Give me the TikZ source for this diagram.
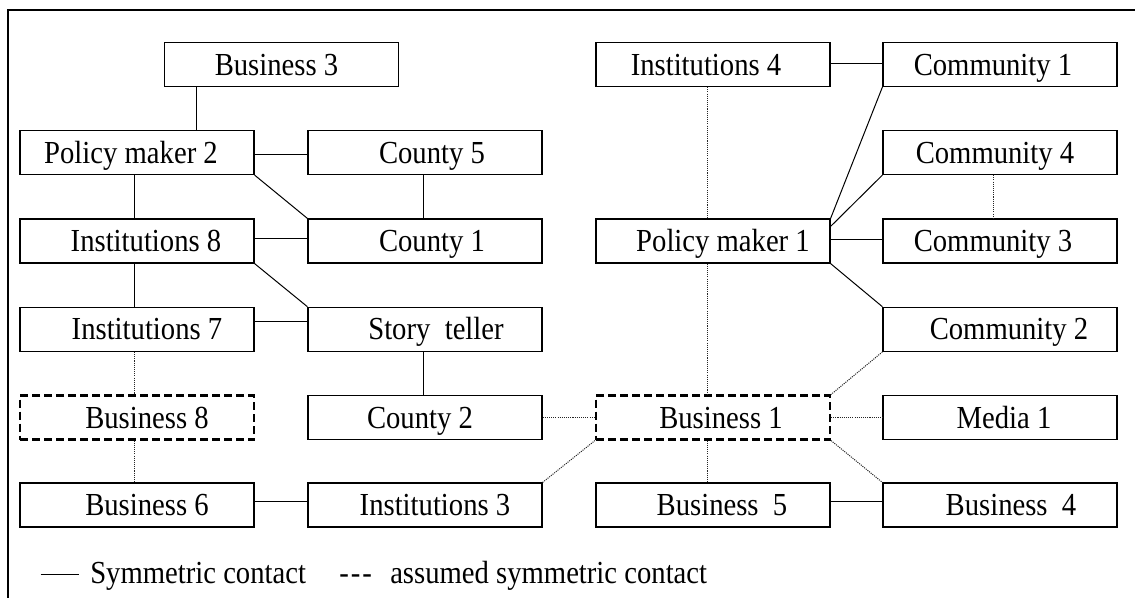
\documentclass[tikz,border=0pt]{standalone}
\usepackage{fontspec}
\setmainfont{Liberation Serif}
\newcommand{\tx}[1]{\scalebox{1}[1.12]{#1}}
\newcommand{\rsh}[2]{\hspace*{#1}\tx{#2}}
\newcommand{\lsh}[2]{\tx{#2}\hspace*{#1}}
\begin{document}
\begin{tikzpicture}[x=0.75pt,y=-0.75pt,
  box/.style={draw, line width=0.9pt, minimum width=175.5pt, minimum height=33pt,
    inner sep=0pt, text height=16pt, text depth=0pt,
    font=\fontsize{21.5pt}{24pt}\selectfont},
  dbox/.style={box, line width=1.6pt, dash pattern=on 6pt off 3pt},
  link/.style={line width=0.75pt},
  dlink/.style={line width=0.75pt, dash pattern=on 0.8pt off 0.8pt, black!85},
  legend/.style={inner sep=0pt, anchor=base west, font=\fontsize{21.5pt}{24pt}\selectfont}]
\useasboundingbox (0,0) rectangle (1135,597);
% frame
\draw[line width=0.9pt] (8,610) -- (8,10) -- (1150,10);
% left group
\node[box] (b3)  at (281.5,64.5) {\lsh{7.5pt}{Business 3}};
\node[box] (pm2) at (137,152.5) {\lsh{9pt}{Policy maker 2}};
\node[box] (c5)  at (425,152.5) {\rsh{10.5pt}{County 5}};
\node[box] (i8)  at (137,241) {\rsh{13.5pt}{Institutions 8}};
\node[box] (c1)  at (425,241) {\rsh{10.5pt}{County 1}};
\node[box] (i7)  at (137,329.3) {\rsh{15pt}{Institutions 7}};
\node[box] (st)  at (425,329.3) {\rsh{16.5pt}{Story~~teller}};
\node[dbox] (b8) at (137,417.5) {\rsh{15pt}{Business 8}};
\node[box] (c2)  at (425,417.5) {\lsh{7.5pt}{County 2}};
\node[box] (b6)  at (137,505) {\rsh{15pt}{Business 6}};
\node[box] (i3)  at (425,505) {\rsh{15pt}{Institutions 3}};
% right group
\node[box] (i4)  at (713,64.5) {\lsh{10.5pt}{Institutions 4}};
\node[box] (cm1) at (1000,64.5) {\lsh{10.5pt}{Community 1}};
\node[box] (cm4) at (1000,152.5) {\lsh{7.5pt}{Community 4}};
\node[box] (pm1) at (713,241) {\rsh{15pt}{Policy maker 1}};
\node[box] (cm3) at (1000,241) {\lsh{10.5pt}{Community 3}};
\node[box] (cm2) at (1000,329.3) {\rsh{13.5pt}{Community 2}};
\node[dbox] (b1) at (713,417.5) {\rsh{12pt}{Business 1}};
\node[box] (md1) at (1000,417.5) {\rsh{6pt}{Media 1}};
\node[box] (b5)  at (713,505) {\rsh{13.5pt}{Business~~5}};
\node[box] (b4)  at (1000,505) {\rsh{16.5pt}{Business~~4}};
% helper coordinates
\coordinate (k1) at ([xshift=24.75pt]b3.south west);
\coordinate (k2) at ([yshift=-6pt]pm1.north east);
% solid connectors, left
\draw[link] (k1) -- (k1 |- pm2.north);
\draw[link] ([yshift=-1.5pt]pm2.east) -- ([yshift=-1.5pt]c5.west);
\draw[link] (pm2.south east) -- (c1.north west);
\draw[link] ([xshift=-1.5pt]c5.south) -- ([xshift=-1.5pt]c1.north);
\draw[link] ([xshift=-2.25pt]pm2.south) -- ([xshift=-2.25pt]i8.north);
\draw[link] ([yshift=2.25pt]i8.east) -- ([yshift=2.25pt]c1.west);
\draw[link] (i8.south east) -- (st.north west);
\draw[link] ([xshift=-2.25pt]i8.south) -- ([xshift=-2.25pt]i7.north);
\draw[link] ([yshift=6pt]i7.east) -- ([yshift=6pt]st.west);
\draw[link] ([xshift=-1.5pt]st.south) -- ([xshift=-1.5pt]c2.north);
\draw[link] ([yshift=3pt]b6.east) -- ([yshift=3pt]i3.west);
% dotted connectors, left
\draw[dlink] ([xshift=-2.25pt]i7.south) -- ([xshift=-2.25pt]b8.north);
\draw[dlink] ([xshift=-2.25pt]b8.south) -- ([xshift=-2.25pt]b6.north);
% solid connectors, right
\draw[link] ([yshift=1pt]i4.east) -- ([yshift=1pt]cm1.west);
\draw[link] (cm1.south west) -- (pm1.north east);
\draw[link] (cm4.south west) -- (k2);
\draw[link] ([yshift=1.5pt]pm1.east) -- ([yshift=1.5pt]cm3.west);
\draw[link] (pm1.south east) -- (cm2.north west);
\draw[link] ([yshift=3pt]b5.east) -- ([yshift=3pt]b4.west);
% dotted connectors, right and middle
\draw[dlink] ([xshift=-5.25pt]cm4.south) -- ([xshift=-5.25pt]cm3.north);
\draw[dlink] ([xshift=-4.5pt]i4.south) -- ([xshift=-4.5pt]pm1.north);
\draw[dlink] ([xshift=-4.5pt]pm1.south) -- ([xshift=-4.5pt]b1.north);
\draw[dlink] (cm2.south west) -- (b1.north east);
\draw[dlink] (c2.east) -- (b1.west);
\draw[dlink] (i3.north east) -- (b1.south west);
\draw[dlink] (b1.east) -- (md1.west);
\draw[dlink] (b1.south east) -- (b4.north west);
\draw[dlink] ([xshift=-4.5pt]b1.south) -- ([xshift=-4.5pt]b5.north);
% legend
\coordinate (la) at (40.7,574.3);
\coordinate (lb) at (79.3,574.3);
\draw[line width=0.8pt] (la) -- (lb);
\node[legend] (l1) at (90,583) {\tx{Symmetric contact}};
\node[legend] (l2) at (339,583) {\tx{-\kern1.5pt-\kern1.5pt-}};
\node[legend] (l3) at (390,583) {\tx{assumed symmetric contact}};
\end{tikzpicture}
\end{document}
